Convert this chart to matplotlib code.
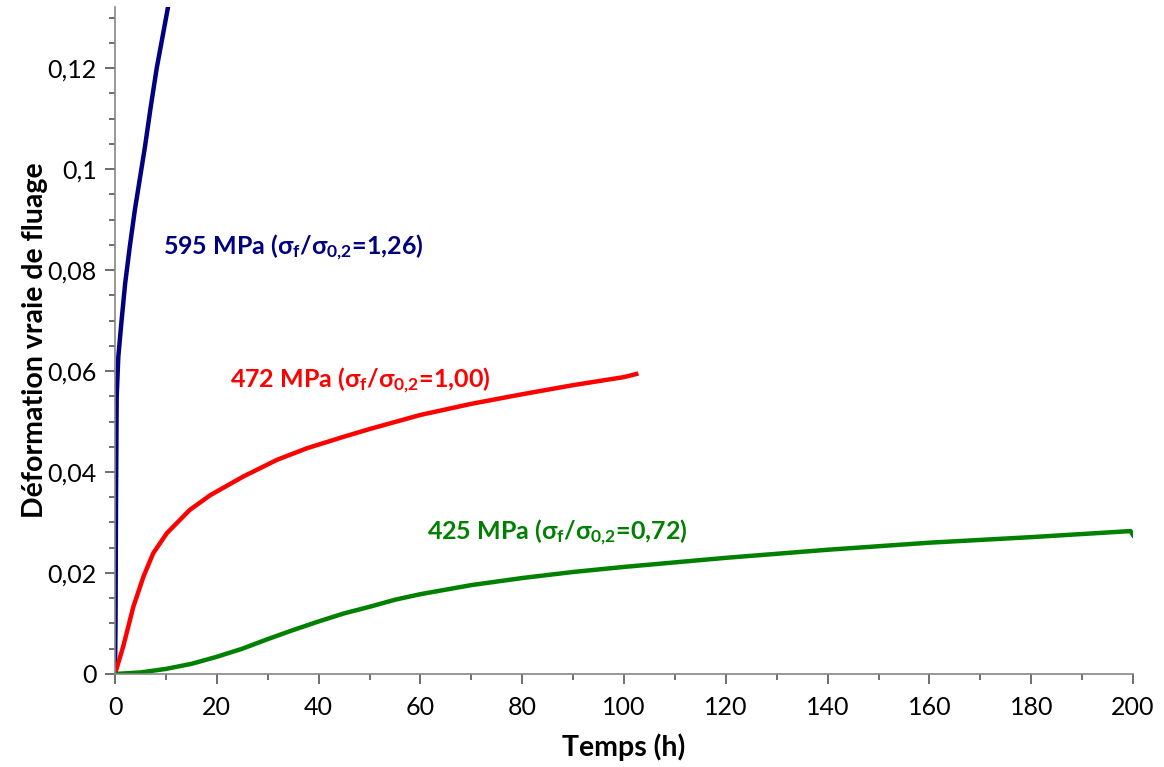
import matplotlib
matplotlib.use('Agg')
import matplotlib.pyplot as plt
from matplotlib.ticker import MultipleLocator, FuncFormatter

plt.rcParams['font.family'] = ['Lato', 'DejaVu Sans']
plt.rcParams['mathtext.fontset'] = 'custom'
plt.rcParams['mathtext.rm'] = 'Lato:bold'
plt.rcParams['mathtext.it'] = 'Lato:bold'
plt.rcParams['mathtext.bf'] = 'Lato:bold'

# 595 MPa
t_595 = [0, 0.1, 0.2, 0.25, 0.33, 0.65, 1.3, 2.0, 2.9, 3.9, 4.9, 5.9, 7.0, 8.2, 9.3, 10.4, 10.8]
e_595 = [0, 0.01, 0.035, 0.0424, 0.0549, 0.0628, 0.0701, 0.0774, 0.0846, 0.0919, 0.0982, 0.1045,
         0.1122, 0.12, 0.126, 0.132, 0.135]

# 472 MPa
t_472 = [0, 1.6, 3.6, 5.6, 7.5, 10.2, 14.7, 18.7, 25.2, 31.8, 37.7, 45, 50, 60, 70, 80, 90, 100, 102.4]
e_472 = [0.0, 0.0054, 0.0133, 0.0193, 0.0239, 0.0279, 0.0325, 0.0354, 0.0391, 0.0424, 0.0447, 0.047,
         0.0485, 0.0513, 0.0535, 0.0554, 0.0572, 0.0588, 0.0594]

# 425 MPa
t_425 = [0, 5, 10, 15, 20, 25, 30, 35, 40, 45, 50, 55, 60, 70, 80, 90, 100, 120, 140, 160, 180, 199.5, 200]
e_425 = [0, 0.0003, 0.001, 0.002, 0.0034, 0.005, 0.0069, 0.0087, 0.0104, 0.012, 0.0133, 0.0147, 0.0158,
         0.0176, 0.019, 0.0202, 0.0212, 0.023, 0.0246, 0.026, 0.0271, 0.0283, 0.0275]

fig = plt.figure(figsize=(11.64, 7.67), dpi=100)
ax = fig.add_axes([0.0988, 0.1213, 0.8746, 0.8696])

ax.plot(t_595, e_595, color='#000080', lw=3.2)
ax.plot(t_472, e_472, color='#FF0000', lw=3.2)
ax.plot(t_425, e_425, color='#008000', lw=3.2)

ax.set_xlim(0, 200)
ax.set_ylim(0, 0.1321)
ax.xaxis.set_major_locator(MultipleLocator(20))
ax.xaxis.set_minor_locator(MultipleLocator(10))
ax.yaxis.set_major_locator(MultipleLocator(0.02))
ax.yaxis.set_minor_locator(MultipleLocator(0.005))
ax.yaxis.set_major_formatter(FuncFormatter(lambda v, p: f'{v:g}'.replace('.', ',')))

for s in ['top', 'right']:
    ax.spines[s].set_visible(False)
for s in ['left', 'bottom']:
    ax.spines[s].set_color('#868686')
    ax.spines[s].set_linewidth(1.2)
ax.tick_params(which='major', length=7, width=1.2, color='#555555', labelsize=18, pad=6)
ax.tick_params(which='minor', length=4, width=1.2, color='#555555')
ax.tick_params(axis='x', pad=9)

ax.set_xlabel('Temps (h)', fontsize=20.5, fontweight='bold', labelpad=10)
ax.set_ylabel('Déformation vraie de fluage', fontsize=20.5, fontweight='bold', labelpad=0)

kw = dict(fontsize=18, fontweight='bold', va='center', ha='left')
ax.text(9.4, 0.0844, r'595 MPa ($\sigma_{f}$/$\sigma_{0{,}2}$=1,26)', color='#000080', **kw)
ax.text(22.6, 0.0580, r'472 MPa ($\sigma_{f}$/$\sigma_{0{,}2}$=1,00)', color='#FF0000', **kw)
ax.text(61.3, 0.0279, r'425 MPa ($\sigma_{f}$/$\sigma_{0{,}2}$=0,72)', color='#008000', **kw)

fig.savefig('out.png', dpi=100)
